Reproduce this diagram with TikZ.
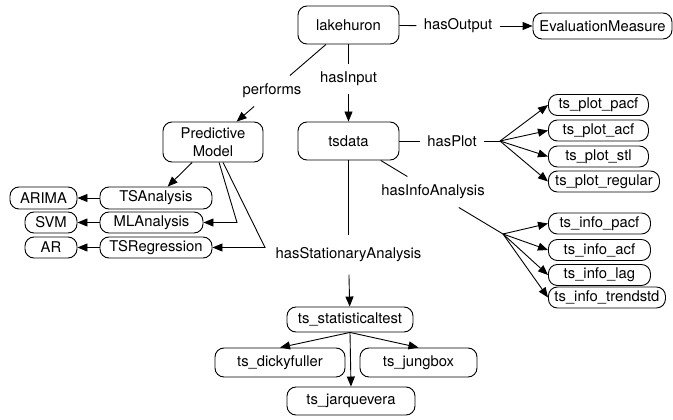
\documentclass[tikz,border=0pt]{standalone}
\usepackage{fontspec}
\setmainfont{TeX Gyre Heros}
\usetikzlibrary{arrows.meta}
\begin{document}
\begin{tikzpicture}[x=1pt,y=-1pt, line width=0.9pt,
  every node/.style={font=\fontsize{14.8}{18}\selectfont},
  box/.style={draw, rounded corners=9pt, inner sep=0pt, align=center},
  lbl/.style={inner xsep=7pt, inner ysep=8pt},
  arr/.style={-{Triangle[length=10pt,width=8pt]}}]
\useasboundingbox (0,0) rectangle (673,420);

% main nodes
\node[box, minimum width=101pt, minimum height=38pt] (lake) at (348.5,25) {lakehuron};
\node[box, minimum width=139pt, minimum height=26pt] (eval) at (602.5,26) {EvaluationMeasure};
\node[box, minimum width=100pt, minimum height=40pt] (pm) at (213,142) {Predictive\\Model};
\node[box, minimum width=101pt, minimum height=38pt] (tsdata) at (348.5,141) {tsdata};

\node[box, minimum width=112pt, minimum height=22pt] (tsa) at (156,198) {TSAnalysis};
\node[box, minimum width=103pt, minimum height=21pt] (mla) at (151.5,222.5) {MLAnalysis};
\node[box, minimum width=112pt, minimum height=21pt] (tsr) at (156,247.5) {TSRegression};
\node[box, minimum width=67pt, minimum height=22pt] (arima) at (43.5,198) {ARIMA};
\node[box, minimum width=52pt, minimum height=21pt] (svm) at (51,222.5) {SVM};
\node[box, minimum width=52pt, minimum height=21pt] (ar) at (51,247.5) {AR};

\node[box, anchor=west, minimum width=100pt, minimum height=21pt] (pp) at (548,105) {ts\_plot\_pacf};
\node[box, anchor=west, minimum width=100pt, minimum height=21pt] (pa) at (548,130.5) {ts\_plot\_acf};
\node[box, anchor=west, minimum width=100pt, minimum height=21pt] (ps) at (548,156.5) {ts\_plot\_stl};
\node[box, anchor=west, minimum width=111pt, minimum height=21pt] (pr) at (548,181.5) {ts\_plot\_regular};

\node[box, anchor=west, minimum width=102pt, minimum height=21pt] (ip) at (548,223.5) {ts\_info\_pacf};
\node[box, anchor=west, minimum width=102pt, minimum height=21pt] (ia) at (548,250) {ts\_info\_acf};
\node[box, anchor=west, minimum width=102pt, minimum height=21pt] (il) at (548,275) {ts\_info\_lag};
\node[box, anchor=west, minimum width=117pt, minimum height=21pt] (it) at (548,297.5) {ts\_info\_trendstd};

\node[box, minimum width=126pt, minimum height=25pt] (stat) at (350,319.5) {ts\_statisticaltest};
\node[box, minimum width=130pt, minimum height=29pt] (dicky) at (280,362.5) {ts\_dickyfuller};
\node[box, minimum width=117pt, minimum height=29pt] (jung) at (418.5,362.5) {ts\_jungbox};
\node[box, minimum width=128pt, minimum height=28pt] (jarq) at (351,401) {ts\_jarquevera};

% labels
\node[lbl] (hout) at (458,26) {hasOutput};
\node[lbl] (perf) at (272,91) {performs};
\node[lbl] (hin) at (348.5,79) {hasInput};
\node[lbl] (hplot) at (452,141) {hasPlot};
\node[lbl] (hinfo) at (433,192) {hasInfoAnalysis};
\node[lbl, inner ysep=12pt] (hstat) at (348.5,255) {hasStationaryAnalysis};

% helper coordinates
\coordinate (fanP) at (500,141);
\coordinate (fanI) at (503,234);
\coordinate (bML) at (237,222.5);
\coordinate (bTR) at (265,247.5);

% connectors
\draw (lake) -- (hout);
\draw[arr] (hout) -- (eval);
\draw (lake) -- (perf);
\draw[arr] (perf) -- (pm);
\draw (lake) -- (hin);
\draw[arr] (hin) -- (tsdata);

\draw[arr] (pm) -- (tsa);
\draw[arr] (pm) -- (bML) -- (mla.east);
\draw[arr] (pm) -- (bTR) -- (tsr.east);
\draw[arr] (tsa) -- (arima);
\draw[arr] (mla) -- (svm);
\draw[arr] (tsr) -- (ar);

\draw (tsdata) -- (hplot);
\draw (hplot) -- (fanP);
\draw[arr] (fanP) -- (pp.west);
\draw[arr] (fanP) -- (pa.west);
\draw[arr] (fanP) -- (ps.west);
\draw[arr] (fanP) -- (pr.west);

\draw (tsdata) -- (hinfo);
\draw (hinfo) -- (fanI);
\draw[arr] (fanI) -- (ip.west);
\draw[arr] (fanI) -- (ia.west);
\draw[arr] (fanI) -- (il.west);
\draw[arr] (fanI) -- (it.west);

\draw (tsdata) -- (hstat);
\draw[arr] (hstat) -- (stat);
\draw[arr] (stat.south) -- (dicky.north);
\draw[arr] (stat.south) -- (jung.north);
\draw[arr] (stat.south) -- (jarq.north);
\end{tikzpicture}
\end{document}
